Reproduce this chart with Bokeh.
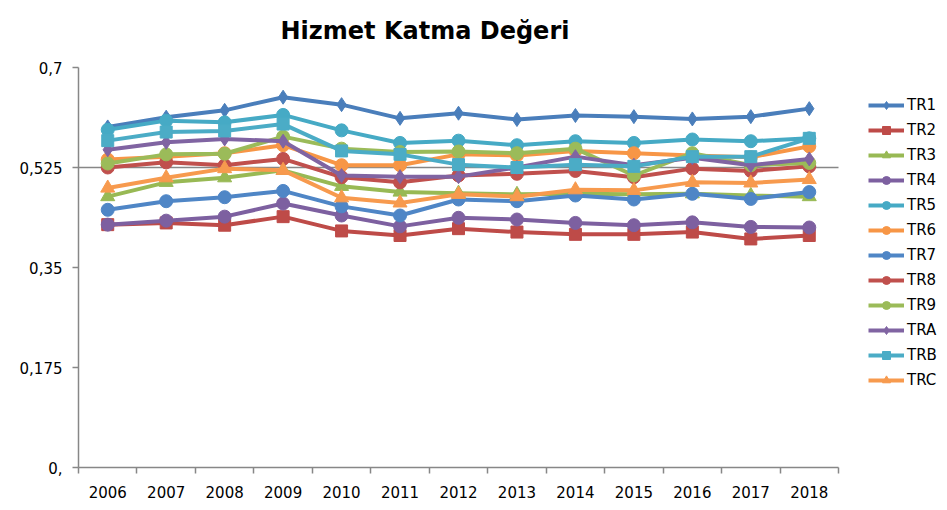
from bokeh.plotting import figure
from bokeh.models import FixedTicker, Legend, LegendItem, Label
from bokeh.embed import file_html
from bokeh.resources import INLINE

years = ["2006", "2007", "2008", "2009", "2010", "2011", "2012",
         "2013", "2014", "2015", "2016", "2017", "2018"]

TR1 = [0.596, 0.613, 0.625, 0.648, 0.635, 0.611, 0.620, 0.609, 0.616, 0.614, 0.610, 0.614, 0.628]
TR2 = [0.425, 0.428, 0.424, 0.439, 0.414, 0.406, 0.418, 0.412, 0.408, 0.408, 0.412, 0.400, 0.406]
TR3 = [0.474, 0.499, 0.507, 0.520, 0.492, 0.482, 0.480, 0.478, 0.479, 0.478, 0.479, 0.476, 0.474]
TR4 = [0.425, 0.432, 0.439, 0.462, 0.441, 0.422, 0.437, 0.434, 0.428, 0.424, 0.429, 0.421, 0.420]
TR5 = [0.591, 0.607, 0.604, 0.617, 0.590, 0.568, 0.572, 0.564, 0.571, 0.568, 0.574, 0.571, 0.576]
TR6 = [0.539, 0.544, 0.550, 0.564, 0.529, 0.529, 0.548, 0.546, 0.554, 0.550, 0.546, 0.543, 0.562]
TR7 = [0.451, 0.466, 0.473, 0.484, 0.457, 0.441, 0.469, 0.466, 0.476, 0.469, 0.479, 0.470, 0.482]
TR8 = [0.525, 0.534, 0.529, 0.540, 0.508, 0.499, 0.511, 0.514, 0.519, 0.508, 0.523, 0.519, 0.527]
TR9 = [0.532, 0.548, 0.549, 0.579, 0.558, 0.552, 0.553, 0.550, 0.558, 0.511, 0.550, 0.529, 0.533]
TRA = [0.556, 0.569, 0.575, 0.571, 0.511, 0.509, 0.509, 0.525, 0.544, 0.529, 0.542, 0.529, 0.540]
TRB = [0.572, 0.587, 0.589, 0.601, 0.554, 0.548, 0.530, 0.525, 0.530, 0.527, 0.544, 0.544, 0.576]
TRC = [0.489, 0.507, 0.523, 0.520, 0.472, 0.463, 0.478, 0.474, 0.486, 0.485, 0.499, 0.498, 0.504]

series_names = ["TR1", "TR2", "TR3", "TR4", "TR5", "TR6", "TR7", "TR8", "TR9", "TRA", "TRB", "TRC"]
series_values = [TR1, TR2, TR3, TR4, TR5, TR6, TR7, TR8, TR9, TRA, TRB, TRC]
series_colors = ["#4A7EBB", "#BE4B48", "#98B954", "#7D60A0", "#46AAC5", "#F79646",
                 "#4F86C6", "#C0504D", "#9BBB59", "#8064A2", "#4BACC6", "#F79A4E"]
series_markers = ["diamond", "square", "triangle", "circle", "circle", "circle",
                  "circle", "circle", "circle", "diamond", "square", "triangle"]
marker_sizes = {"diamond": 14, "square": 12, "triangle": 14, "circle": 13}

y_ticks = [0.0, 0.175, 0.35, 0.525, 0.7]
y_tick_labels = ["0,", "0,175", "0,35", "0,525", "0,7"]
ref_level = 0.525
y_max = 0.7
title_text = "Hizmet Katma Değeri"

FONT = "DejaVu Sans"
GRAY = "#878787"

n = len(years)
xs = [i + 0.5 for i in range(n)]

# layout (pixels): category area 760 x 400, frame extended right for the legend
# and upward for the title
PLOT_W, PLOT_H = 760, 400
FRAME_W, FRAME_H = 861, 467
x_end = n * FRAME_W / PLOT_W
y_end = y_max * FRAME_H / PLOT_H

p = figure(frame_width=FRAME_W, frame_height=FRAME_H, x_range=(0, x_end), y_range=(0, y_end),
           output_backend="svg", toolbar_location=None,
           min_border_left=78, min_border_right=0, min_border_top=0, min_border_bottom=35)

p.xgrid.visible = False
p.ygrid.visible = False
p.outline_line_color = None

xa = p.xaxis[0]
xa.bounds = (0, n)
xa.ticker = FixedTicker(ticks=xs, minor_ticks=list(range(n + 1)))
xa.major_label_overrides = {x: y for x, y in zip(xs, years)}
xa.major_tick_out = 0
xa.major_tick_in = 0
xa.minor_tick_out = 6
xa.minor_tick_in = 0
xa.minor_tick_line_color = GRAY
xa.minor_tick_line_width = 1.5
xa.axis_line_color = GRAY
xa.axis_line_width = 1.5
xa.major_label_standoff = 12
xa.major_label_text_font = FONT
xa.major_label_text_font_size = "15px"
xa.major_label_text_color = "#000000"

ya = p.yaxis[0]
ya.bounds = (0, y_max)
ya.ticker = FixedTicker(ticks=y_ticks, minor_ticks=[])
ya.major_label_overrides = {v: s for v, s in zip(y_ticks, y_tick_labels)}
ya.major_tick_out = 6
ya.major_tick_in = 0
ya.major_tick_line_color = GRAY
ya.major_tick_line_width = 1.5
ya.axis_line_color = GRAY
ya.axis_line_width = 1.5
ya.major_label_standoff = 10
ya.major_label_text_font = FONT
ya.major_label_text_font_size = "15px"
ya.major_label_text_color = "#000000"

# title drawn as a label in the upper part of the frame
p.add_layout(Label(x=202, y=437, x_units="screen", y_units="screen", text=title_text,
                   text_font=FONT, text_font_size="24px", text_font_style="bold",
                   text_color="#000000", text_align="left", text_baseline="alphabetic"))

# horizontal reference line at 0,525 across the category area
p.line([0, n], [ref_level, ref_level], line_color=GRAY, line_width=1.5)

items = []
for name, vals, col, mk in zip(series_names, series_values, series_colors, series_markers):
    ln = p.line(xs, vals, line_color=col, line_width=4)
    sc = p.scatter(xs, vals, marker=mk, size=marker_sizes[mk], fill_color=col, line_color=col)
    items.append(LegendItem(label=name, renderers=[ln, sc]))

legend = Legend(items=items, location=(790, 77), orientation="vertical")
legend.glyph_width = 36
legend.glyph_height = 20
legend.label_height = 20
legend.spacing = 5
legend.label_standoff = 3
legend.padding = 2
legend.margin = 0
legend.border_line_color = None
legend.background_fill_alpha = 0
legend.label_text_font = FONT
legend.label_text_font_size = "15px"
legend.label_text_color = "#000000"
p.add_layout(legend)

open("out.html", "w").write(file_html(p, INLINE))
